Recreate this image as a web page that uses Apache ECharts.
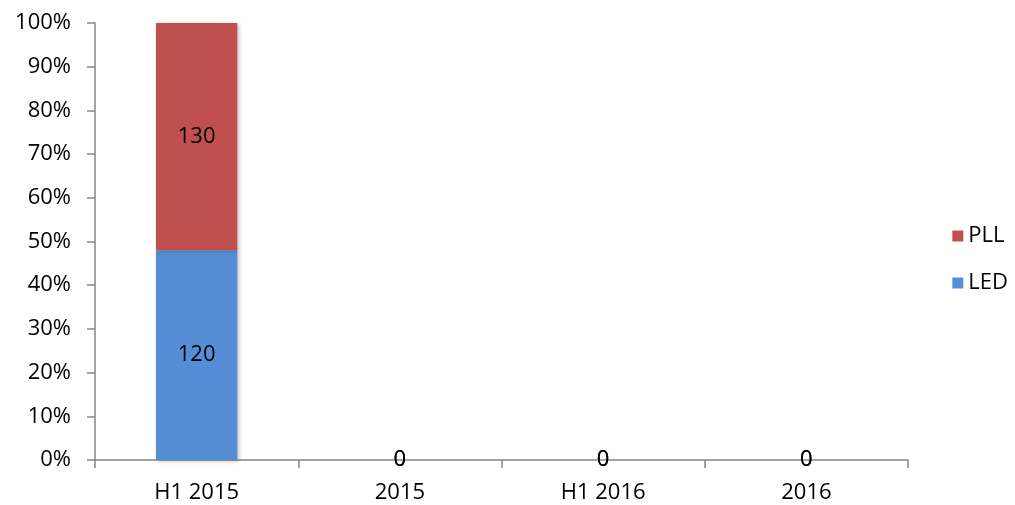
<!DOCTYPE html>
<html>
<head>
<meta charset="utf-8">
<script src="https://cdn.jsdelivr.net/npm/echarts@6/dist/echarts.min.js"></script>
<style>html,body{margin:0;padding:0;background:#fff}#c{width:1015px;height:505px}</style>
</head>
<body>
<div id="c"></div>
<script>
const categories = ['H1 2015', '2015', 'H1 2016', '2016'];
const ledValues = [120, 0, 0, 0];
const pllValues = [130, 0, 0, 0];
const yTicks = [0, 10, 20, 30, 40, 50, 60, 70, 80, 90, 100];

function pct(vals, i) {
  const t = ledValues[i] + pllValues[i];
  return t ? vals[i] / t * 100 : 0;
}
const ledPct = categories.map((c, i) => ({ value: pct(ledValues, i), raw: ledValues[i] }));
const pllPct = categories.map((c, i) => ({ value: pct(pllValues, i), raw: pllValues[i] }));

const font = 'Open Sans';
const fs = 22;
const chart = echarts.init(document.getElementById('c'));
const labelCfg = {
  show: true, position: 'inside', color: '#000', fontFamily: font, fontSize: fs,
  formatter: p => String(p.data.raw)
};
const shadow = { shadowColor: 'rgba(0,0,0,0.25)', shadowBlur: 4, shadowOffsetX: 2, shadowOffsetY: 1 };
chart.setOption({
  animation: false,
  backgroundColor: '#fff',
  grid: { left: 95, right: 107, top: 23, bottom: 45 },
  legend: {
    orient: 'vertical', right: 2, top: 220, itemGap: 25, itemWidth: 11, itemHeight: 11,
    icon: 'rect', data: ['PLL', 'LED'],
    textStyle: { fontFamily: font, fontSize: fs, color: '#000' }
  },
  xAxis: {
    type: 'category', data: categories,
    axisLine: { lineStyle: { color: '#868686', width: 1.5 } },
    axisTick: { show: true, alignWithLabel: false, length: 8, lineStyle: { color: '#868686', width: 1.5 } },
    axisLabel: { fontFamily: font, fontSize: fs, color: '#000', margin: 22 }
  },
  yAxis: {
    type: 'value', min: 0, max: 100, interval: 10,
    axisLine: { show: true, lineStyle: { color: '#868686', width: 1.5 } },
    axisTick: { show: true, length: 8, lineStyle: { color: '#868686', width: 1.5 } },
    splitLine: { show: false },
    axisLabel: { fontFamily: font, fontSize: fs, color: '#000', margin: 24, formatter: v => v + '%' }
  },
  series: [
    { name: 'LED', type: 'bar', stack: 's', barWidth: '40%', data: ledPct,
      itemStyle: Object.assign({ color: '#558ED5' }, shadow), label: labelCfg },
    { name: 'PLL', type: 'bar', stack: 's', barWidth: '40%', data: pllPct,
      itemStyle: Object.assign({ color: '#C0504D' }, shadow), label: labelCfg }
  ]
});
</script>
</body>
</html>
